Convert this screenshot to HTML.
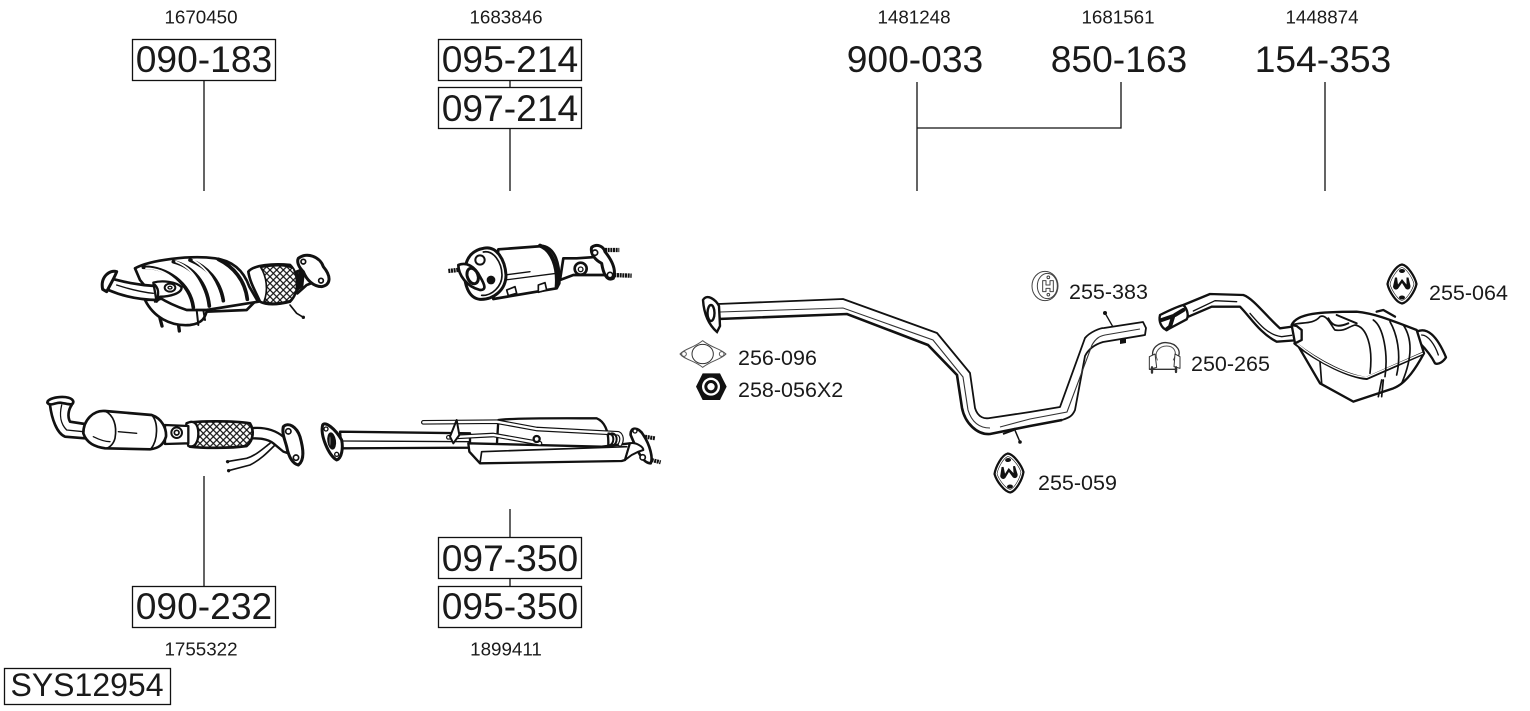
<!DOCTYPE html>
<html><head><meta charset="utf-8"><style>
html,body{margin:0;padding:0;background:#fff;width:1530px;height:711px;overflow:hidden}
svg{display:block}
text{font-family:"Liberation Sans",sans-serif;fill:#1a1a1a}
.s{font-size:18.8px;text-anchor:middle}
.b{font-size:37.2px;text-anchor:middle}
.m{font-size:21.5px}
.box{fill:#fff;stroke:#111;stroke-width:1.3}
.l{stroke:#111;stroke-width:1.3;fill:none}
.z{stroke:#111;fill:#fff;stroke-width:7;stroke-linejoin:round;stroke-linecap:round}
.n{fill:none}
.t{fill:none;stroke-width:4}
.k{fill:#111;stroke:none}
</style></head><body>
<svg width="1530" height="711" viewBox="0 0 1530 711" xmlns="http://www.w3.org/2000/svg">
<defs>
<pattern id="mesh" width="20" height="20" patternUnits="userSpaceOnUse">
<rect width="20" height="20" fill="#fff"/>
<path d="M0,0L20,20M20,0L0,20" stroke="#111" stroke-width="3.6"/>
</pattern>
<g id="hanger" class="z">
<path d="M0,-39C12,-37 26,-14 29,0C26,14 12,37 0,39C-12,37 -26,14 -29,0C-26,-14 -12,-37 0,-39Z" style="stroke-width:4.5"/>
<path d="M0,-33C9,-31 21,-12 24,0C21,12 9,31 0,33C-9,31 -21,12 -24,0C-21,-12 -9,-31 0,-33Z" style="fill:none;stroke-width:1.2"/>
<ellipse cx="0" cy="-26" rx="6" ry="4" class="k"/><ellipse cx="0" cy="27" rx="6" ry="4" class="k"/>
<path d="M-14,-13L-18,5C-17,12 -10,13 -7,8L0,-2L7,9C11,13 17,11 17,4L13,-13L9,-13L9,1L0,-10L-8,1L-10,-13Z" class="k"/>
</g>
</defs>

<!-- labels -->
<text class="s" x="201" y="23.500">1670450</text>
<text class="s" x="506" y="23.500">1683846</text>
<text class="s" x="914" y="23.500">1481248</text>
<text class="s" x="1118" y="23.500">1681561</text>
<text class="s" x="1322" y="23.500">1448874</text>
<text class="s" x="201" y="655.500">1755322</text>
<text class="s" x="506" y="655.500">1899411</text>

<!-- connector lines -->
<path class="l" d="M204,81V191M510,81V87M510,129V191M917,82V191M1121,82V128H917M1325,82V191M204,476V586M510,509V537M510,579V586"/>

<!-- boxes -->
<rect class="box" x="132.500" y="39.500" width="143" height="41"/>
<rect class="box" x="438.500" y="39.500" width="143" height="41"/>
<rect class="box" x="438.500" y="87.500" width="143" height="41"/>
<rect class="box" x="132.500" y="586.500" width="143" height="41"/>
<rect class="box" x="438.500" y="537.500" width="143" height="41"/>
<rect class="box" x="438.500" y="586.500" width="143" height="41"/>
<rect class="box" x="4.500" y="668.500" width="166" height="36"/>
<text class="b" x="204" y="72">090-183</text>
<text class="b" x="510" y="72">095-214</text>
<text class="b" x="510" y="121">097-214</text>
<text class="b" x="204" y="619">090-232</text>
<text class="b" x="510" y="571">097-350</text>
<text class="b" x="510" y="619">095-350</text>
<text class="b" x="915" y="72">900-033</text>
<text class="b" x="1119" y="72">850-163</text>
<text class="b" x="1323" y="72">154-353</text>
<text x="87" y="696" style="font-size:32px;text-anchor:middle">SYS12954</text>

<text class="m" x="738" y="365">256-096</text>
<text class="m" x="738" y="397">258-056X2</text>
<text class="m" x="1069" y="299">255-383</text>
<text class="m" x="1191" y="371">250-265</text>
<text class="m" x="1429" y="300">255-064</text>
<text class="m" x="1038" y="490">255-059</text>

<!-- Part 1: 090-183 cat -->
<g transform="translate(90,230) scale(.33333)" class="z">
<path d="M210,265L216,288M265,280L268,303" stroke-width="10"/>
<path d="M600,225L620,250L640,262" class="n" stroke-width="5"/>
<circle cx="640" cy="262" r="5" class="k"/>
<path d="M165,210C190,260 240,290 300,285C340,280 345,260 350,245L470,240L500,210L300,200Z" stroke-width="8"/>
<path d="M320,240L325,285M340,240L345,270" class="n" stroke-width="6"/>
<path d="M475,125C490,105 550,100 600,105C625,130 630,185 600,215C560,225 530,225 510,215C500,190 480,160 475,125Z" stroke-width="8"/>
<path d="M512,112C555,105 590,105 610,115C625,150 625,190 600,212C570,220 540,222 522,215C535,180 530,140 512,112Z" fill="url(#mesh)" stroke-width="5"/>
<path d="M620,125L665,108L690,150L650,165L622,190Z" stroke-width="8"/>
<path d="M625,120L645,125L640,170L620,185Z" class="k"/>
<path d="M625,85C650,65 690,80 700,110C725,140 722,165 695,170C670,170 650,150 640,125C625,110 620,95 625,85Z" stroke-width="9"/>
<circle cx="640" cy="95" r="7" stroke-width="5"/><circle cx="693" cy="152" r="7" stroke-width="5"/>
<path d="M135,115C180,90 300,75 375,85C430,92 462,125 478,170L500,208L505,215L350,240L290,240C230,220 180,190 150,150Z" stroke-width="8"/>
<path d="M160,112C230,110 300,160 310,232M250,95C310,110 350,160 358,228M300,90C350,110 390,150 400,212M385,88C430,110 465,150 472,208" class="n" stroke-width="11"/>
<path d="M168,115C230,115 290,165 300,233M258,95C310,115 340,165 348,228M310,90C350,115 380,155 392,212" class="n" stroke-width="5" stroke="#fff"/>
<path d="M60,145C100,155 140,165 195,168L205,210C140,210 90,195 55,180Z" stroke-width="8"/>
<path d="M38,178C30,140 60,118 80,125C75,140 60,165 50,185Z" stroke-width="9"/>
<path d="M190,158C215,150 260,155 275,172C275,190 240,200 210,200L200,215Z" stroke-width="7"/>
<ellipse cx="240" cy="173" rx="16" ry="12" stroke-width="6"/><ellipse cx="240" cy="173" rx="6" ry="4" stroke-width="4"/>
<path d="M80,165C120,178 150,186 190,190" class="t"/>
<path d="M195,165C210,180 205,205 195,215" stroke-width="7" class="n"/>
</g>

<!-- Part 2: 095-214 -->
<g transform="translate(430,230) scale(.33333)" class="z">
<path d="M55,123L100,118M110,173L155,170M525,60L568,60M545,135L605,137" stroke-width="13" stroke-dasharray="6 2" style="stroke-linecap:butt"/>
<path d="M400,85L440,85L510,80L525,135L430,135L390,150Z" stroke-width="8"/>
<path d="M485,52C500,40 520,48 525,65C545,90 560,120 550,145C530,155 520,130 515,100C495,90 480,70 485,52Z" stroke-width="9"/>
<circle cx="495" cy="68" r="8" stroke-width="5"/><circle cx="540" cy="135" r="8" stroke-width="5"/>
<circle cx="452" cy="116" r="18" stroke-width="8"/><circle cx="452" cy="118" r="7" stroke-width="4"/>
<path d="M205,58L340,48C375,55 390,100 388,160L380,175L190,207Z" stroke-width="8"/>
<path d="M330,47C365,60 385,110 380,170" stroke-width="12" class="n"/>
<path d="M225,135L300,125M225,150L380,130" class="t"/>
<path d="M230,180L255,170L260,190L235,197ZM325,165L345,158L350,180L325,187Z" stroke-width="5"/>
<path d="M160,55C200,45 225,90 228,135C228,180 190,210 150,208C115,205 100,160 105,115C110,80 130,60 160,55Z" stroke-width="9"/>
<path d="M160,66C190,60 215,95 216,135C216,170 185,198 155,196" class="n" stroke-width="5"/>
<path d="M85,105C110,95 135,110 150,140C165,165 170,180 150,180C110,170 85,135 85,105Z" stroke-width="8"/>
<ellipse cx="128" cy="138" rx="16" ry="24" transform="rotate(-20 128 138)" stroke-width="9"/>
<circle cx="150" cy="90" r="14" stroke-width="6"/><circle cx="183" cy="150" r="13" class="k"/>
</g>

<!-- Part 3: 090-232 -->
<g transform="translate(30,380) scale(.33333)" class="z">
<path d="M660,145C700,140 735,150 760,170L790,225L760,215L730,190C710,175 685,175 665,175Z" stroke-width="7"/>
<path d="M590,245L650,235C680,225 700,205 720,190M595,272L660,255C690,240 710,220 735,195" class="n" stroke-width="5"/>
<circle cx="593" cy="245" r="5" class="k"/><circle cx="596" cy="272" r="5" class="k"/>
<path d="M760,140C775,125 800,140 810,170C820,205 825,240 805,255C785,250 775,225 770,200C765,180 755,160 760,140Z" stroke-width="9"/>
<circle cx="775" cy="154" r="8" stroke-width="5"/><circle cx="798" cy="233" r="8" stroke-width="5"/>
<path d="M470,130C500,122 610,122 660,130C672,150 672,180 650,198C600,205 520,205 480,200C490,175 490,150 470,130Z" fill="url(#mesh)" stroke-width="8"/>
<path d="M470,130C490,118 505,130 505,160C505,185 495,205 475,198C470,180 462,150 470,130Z" stroke-width="7"/>
<path d="M405,135L475,138L475,190L405,192Z" stroke-width="7"/>
<circle cx="440" cy="158" r="16" stroke-width="6"/><circle cx="440" cy="158" r="7" stroke-width="5"/>
<path d="M60,75C55,60 130,55 125,75C115,90 112,110 120,125L165,132L165,175L105,170C80,160 65,115 60,75Z" stroke-width="8"/>
<path d="M52,68C52,50 125,42 130,65C130,80 110,70 90,68C75,68 60,80 52,68Z" stroke-width="8"/>
<path d="M95,75C88,105 90,130 110,150L160,155" class="t"/>
<path d="M225,93L365,105C395,115 410,145 408,170C400,195 385,205 360,208L225,205C195,200 170,190 160,160C160,120 190,90 225,93Z" stroke-width="8"/>
<path d="M225,93C250,105 262,135 255,175C250,195 235,205 225,205" class="n" stroke-width="5"/>
<path d="M365,105C385,125 385,180 362,208" class="n" stroke-width="5"/>
<path d="M265,155L320,160M190,170C210,180 225,185 240,185" class="t"/>
</g>

<!-- Part 4: 097-350 / 095-350 -->
<g transform="translate(310,405) scale(.33333)" class="z">
<path d="M1005,95L1035,100M1025,165L1052,172" stroke-width="12" stroke-dasharray="6 2" style="stroke-linecap:butt"/>
<path d="M565,45C620,38 780,40 860,40C885,50 895,80 895,110L895,130L560,130Z" stroke-width="7"/>
<path d="M962,90C960,65 985,65 1000,90C1020,120 1030,160 1022,175C1000,175 985,145 962,90Z" stroke-width="8"/>
<circle cx="975" cy="78" r="6" stroke-width="4"/><circle cx="998" cy="157" r="8" stroke-width="5"/>
<path d="M90,80L480,85L480,128L95,130Z" stroke-width="7"/>
<path d="M98,108L480,110" class="t"/>
<path d="M475,115L875,125L960,115L945,165L935,168L510,175L478,140Z" stroke-width="7"/>
<path d="M510,175L515,140L950,125" class="n" stroke-width="5"/>
<path d="M960,115C975,110 1000,125 1000,135L985,140L965,150L945,165Z" stroke-width="6"/>
<path d="M340,52L560,50L680,72L925,85C935,90 938,105 930,118" stroke-width="14" stroke-linecap="round" class="n"/>
<path d="M340,52L560,50L680,72L925,85C935,90 938,105 930,118" stroke-width="7" stroke="#fff" class="n"/>
<path d="M415,97L550,90L690,115" stroke-width="14" class="n"/>
<path d="M415,97L550,90L690,115" stroke-width="7" stroke="#fff" class="n"/>
<path d="M440,45L420,95L430,115L448,90Z" stroke-width="6"/>
<circle cx="680" cy="102" r="9" stroke-width="7"/>
<path d="M895,85C915,85 915,120 895,122M905,85C925,85 925,120 905,122" class="n" stroke-width="6"/>
<path d="M38,60C45,48 75,70 95,105C100,130 95,160 80,165C55,150 30,90 38,60Z" stroke-width="9"/>
<ellipse cx="65" cy="108" rx="13" ry="26" transform="rotate(-8 65 108)" class="k"/>
<ellipse cx="60" cy="108" rx="3" ry="14" fill="#555" stroke="none"/>
<circle cx="48" cy="72" r="6" stroke-width="4"/><circle cx="80" cy="148" r="6" stroke-width="4"/>
</g>

<!-- Main pipe -->
<g>
<path d="M718,304L843,299L937,333L970,373L975,408C978,418 985,419 990,418L1030,412L1060,407L1085,338C1090,332 1100,328 1104,328L1143,322L1146,328L1145,335L1103,342C1093,345 1088,350 1085,356L1075,410C1072,417 1068,418 1062,420L1030,426L990,434C977,435 965,423 962,408L957,375L928,345L847,314L720,319Z" fill="#fff" stroke="#111" stroke-width="1.8" stroke-linejoin="round"/>
<path d="M718,319L847,314L928,345L957,375L962,408C965,423 977,435 990,434L1030,426L1062,420" class="n" fill="none" stroke="#111" stroke-width="2.6"/>
<path d="M720,312L843,308L933,340L963,377L968,410C972,423 980,428 990,428M1000,427L1030,419L1067,412L1092,345C1096,338 1100,336 1105,335L1140,329" fill="none" stroke="#333" stroke-width="1.1"/>
<path d="M703,300C707,293 716,300 719,306L720,326L717,332C709,325 704,315 703,300Z" fill="#fff" stroke="#111" stroke-width="2.4"/>
<ellipse cx="711" cy="313" rx="3.500" ry="8" fill="#fff" stroke="#111" stroke-width="2.400"/>
<path d="M1014,428L1020,442" stroke="#111" stroke-width="1.500"/><circle cx="1020" cy="442" r="1.800" fill="#111"/>
<path d="M1003,434L1014,430" stroke="#111" stroke-width="1.800"/>
<path d="M1113,327L1105,313" stroke="#111" stroke-width="1.300"/><circle cx="1105" cy="313" r="2" fill="#111"/>
<path d="M1120,340L1126,338L1126,343L1120,344Z" fill="#111"/>
</g>

<!-- Gasket, nut -->
<g transform="translate(670,280) scale(.33333)" class="z">
<path d="M30,222C45,205 70,205 98,182C128,205 150,205 168,222C150,240 128,240 98,262C70,240 45,240 30,222Z" stroke="#555" stroke-width="3"/>
<ellipse cx="98" cy="222" rx="32" ry="29" stroke="#333" stroke-width="3"/>
<circle cx="42" cy="222" r="7" stroke="#555" stroke-width="3"/><circle cx="155" cy="222" r="7" stroke="#555" stroke-width="3"/>
<path d="M78,320L98,280L150,280L170,320L150,360L98,360Z" class="k"/>
<circle cx="123" cy="320" r="27" fill="#fff" stroke="none"/>
<circle cx="123" cy="320" r="20" fill="#111" stroke="none"/>
<circle cx="123" cy="320" r="11" fill="#fff" stroke="none"/>
</g>

<!-- hangers -->
<use href="#hanger" transform="translate(1009,473) scale(.5,.5) rotate(-4)"/>
<use href="#hanger" transform="translate(1402,284) scale(.5,.5)"/>

<!-- 255-383 round hanger -->
<g transform="translate(1020,260) scale(.33333)" class="z">
<ellipse cx="75" cy="78" rx="39" ry="44" stroke="#444" stroke-width="3"/>
<ellipse cx="82" cy="78" rx="30" ry="38" stroke="#444" stroke-width="3"/>
<path d="M68,62L78,62L78,75L90,75L90,62L100,62L100,95L90,95L90,85L78,85L78,95L68,95Z" stroke="#444" stroke-width="3"/>
<circle cx="85" cy="52" r="4" stroke="#444" stroke-width="3"/><circle cx="85" cy="104" r="4" stroke="#444" stroke-width="3"/>
</g>

<!-- Clamp -->
<g transform="translate(1020,260) scale(.33333)" class="z">
<path d="M402,300C385,260 425,245 440,248C470,250 490,275 468,300" fill="none" stroke="#333" stroke-width="4"/>
<path d="M412,300C400,275 420,258 440,258C460,258 475,275 460,300" fill="none" stroke="#555" stroke-width="3"/>
<path d="M388,290L405,282L410,322L388,328ZM465,282L480,290L480,325L462,320Z" stroke="#333" stroke-width="3"/>
<path d="M390,328L470,328" stroke="#333" stroke-width="4"/>
<path d="M396,322V338M468,322V336" stroke="#333" stroke-width="7"/>
</g>

<!-- Rear silencer -->
<g transform="translate(1020,260) scale(.33333)" class="z">
<path d="M1070,155L1090,150L1125,170" stroke-width="7" class="n"/>
<path d="M1190,215C1220,200 1250,225 1278,292C1270,305 1255,315 1245,310C1235,290 1220,270 1200,250Z" stroke-width="7"/>
<path d="M1205,225C1225,225 1245,255 1255,285" class="t"/>
<path d="M490,135L570,102L670,105C700,115 740,170 780,205L830,198L840,240L770,245C720,220 690,170 660,140L575,140L505,170Z" stroke-width="7"/>
<path d="M520,153L585,122L650,125M690,160C720,195 745,225 785,230L815,226" class="t" fill="none"/>
<path d="M420,165C440,155 470,140 490,135C505,150 505,170 500,178L440,210C425,205 415,185 420,165Z" stroke-width="7"/>
<path d="M425,180L460,168L450,200L440,208M465,165L490,150" class="n" stroke-width="12"/>
<path d="M815,195C830,160 900,155 1010,155C1060,160 1100,175 1190,210L1212,280C1190,320 1160,370 1120,385L1000,425L900,370L830,250Z" stroke-width="7"/>
<path d="M825,250C900,310 990,350 1040,355L1210,280" fill="none" stroke-width="10"/>
<path d="M830,250C900,310 990,350 1040,352L1207,280" fill="none" stroke="#fff" stroke-width="4"/>
<path d="M815,195C840,185 880,195 900,170C920,160 935,200 945,210C975,215 985,200 1005,195C1040,200 1060,260 1050,340M1060,180C1090,200 1105,280 1095,350M1110,185C1130,220 1145,280 1130,345M1150,195C1180,240 1175,300 1145,370" class="n" stroke-width="5"/>
<path d="M925,175C935,195 950,205 985,190M950,165L1010,190" class="n" stroke-width="6"/>
<path d="M900,305L905,370M1085,360L1075,410M1090,360L1085,410" class="n" stroke-width="5"/>
<path d="M815,195L830,198L845,210L845,240L825,250Z" stroke-width="7"/>
</g>
</svg>
</body></html>
